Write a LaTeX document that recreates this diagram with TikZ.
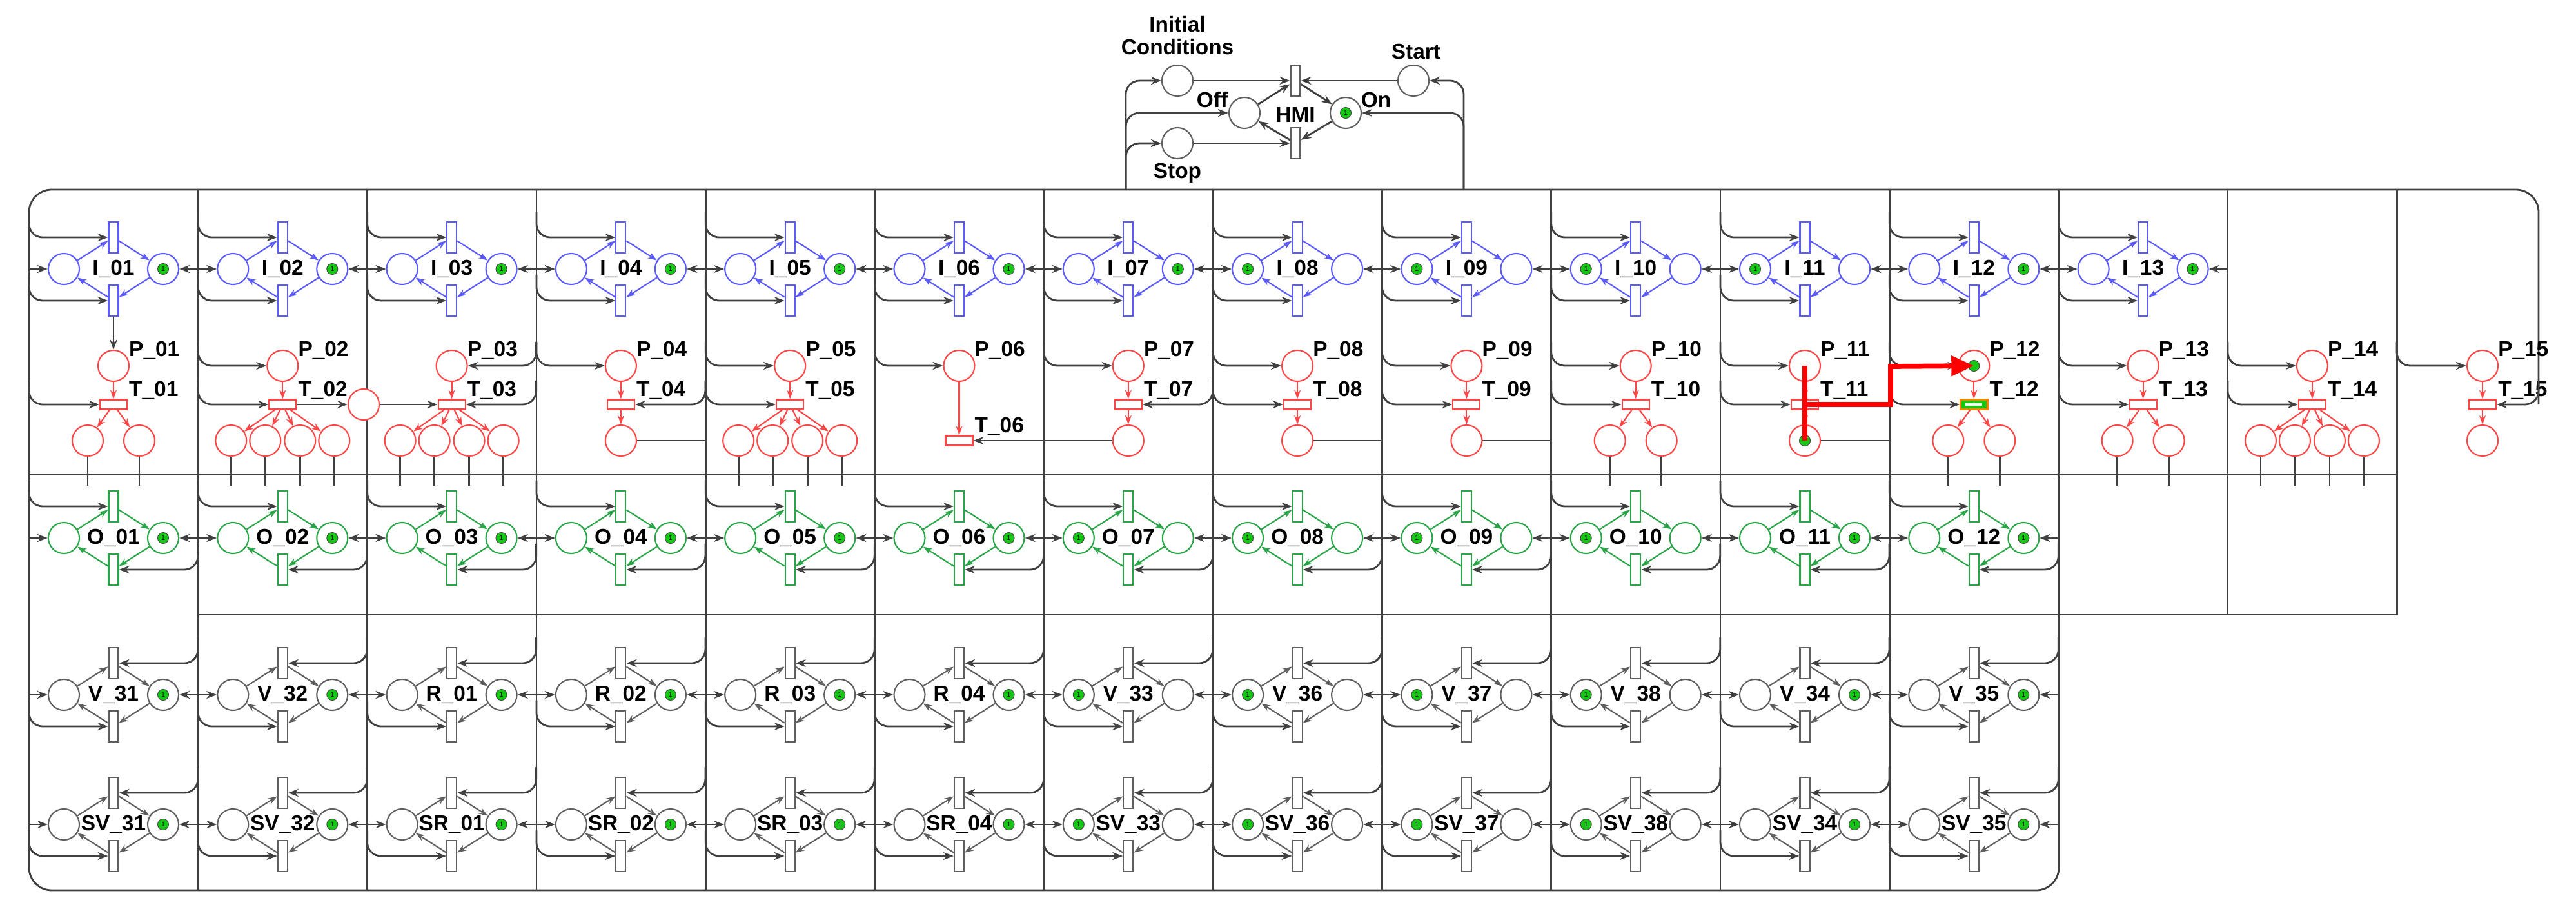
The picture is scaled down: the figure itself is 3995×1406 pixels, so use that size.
\documentclass[tikz,border=0pt]{standalone}
\usepackage{fontspec}
\setmainfont{Liberation Sans}
\usetikzlibrary{arrows.meta}
\definecolor{iblue}{RGB}{90,90,255}
\definecolor{pred}{RGB}{255,70,70}
\definecolor{ogreen}{RGB}{40,165,70}
\definecolor{vgray}{RGB}{95,95,95}
\definecolor{tokg}{RGB}{20,200,20}
\tikzset{
 place/.style={circle,minimum size=0.48cm,inner sep=0pt,line width=0.6pt,fill=white},
 vtr/.style={rectangle,minimum width=0.15cm,minimum height=0.48cm,inner sep=0pt,line width=0.6pt,fill=white},
 htr/.style={rectangle,minimum width=0.42cm,minimum height=0.15cm,inner sep=0pt,line width=0.6pt,fill=white},
 token/.style={circle,minimum size=0.17cm,inner sep=0pt,fill=tokg,draw=black!70,line width=0.3pt,font=\fontsize{3}{3}\selectfont},
 lab/.style={font=\bfseries\fontsize{9.5}{10}\selectfont,inner sep=1pt},
 conn/.style={draw=black!75,line width=0.8pt,rounded corners=6},
 arr/.style={conn,-{Stealth[length=0.16cm,width=0.12cm]}},
 iarc/.style={line width=0.6pt,-{Stealth[length=0.14cm,width=0.1cm]}},
}
\newcommand\pnm[8]{%
 \pgfmathsetmacro\xl{#2-77}\pgfmathsetmacro\xr{#2+77}%
 \pgfmathsetmacro\yu{#3-49}\pgfmathsetmacro\yd{#3+49}%
 \pgfmathsetmacro\bl{#2-131}\pgfmathsetmacro\br{#2+131}%
 \node[place,draw=#4] (#1l) at (\xl,#3) {};
 \node[place,draw=#4] (#1r) at (\xr,#3) {};
 \node[vtr,draw=#4] (#1u) at (#2,\yu) {};
 \node[vtr,draw=#4] (#1d) at (#2,\yd) {};
 \node[lab] at (#2,#3) {#6};
 \draw[iarc,#4] (#1l) -- (#1u);
 \draw[iarc,#4] (#1u) -- (#1r);
 \draw[iarc,#4] (#1r) -- (#1d);
 \draw[iarc,#4] (#1d) -- (#1l);
 \if L#5 \node[token] at (#1l) {1};\else \node[token] at (#1r) {1};\fi
 \if L#7 \draw[arr] (\bl,\yu-40) |- (#1u.west);\else \draw[arr] (\br,\yu-40) |- (#1u.east);\fi
 \if L#8 \draw[arr] (\bl,\yd-40) |- (#1d.west);\else \draw[arr] (\br,\yd-40) |- (#1d.east);\fi
 \draw[arr] (\bl,#3) -- (#1l);
 \draw[arr] (\br,#3) -- (#1r);
}
\begin{document}
\begin{tikzpicture}[x=0.01cm,y=-0.01cm]
\useasboundingbox (0,0) rectangle (3995,1406);
% frame
\draw[conn,rounded corners=10] (3937,627) -- (3937,294) -- (45,294) -- (45,1380) -- (3193,1380) -- (3193,953);
\foreach \k in {1,...,11}{\pgfmathsetmacro\xx{45+262.3*\k}\draw[conn] (\xx,294) -- (\xx,1380);}
\foreach \k in {12,13,14}{\pgfmathsetmacro\xx{45+262.3*\k}\draw[conn] (\xx,294) -- (\xx,953);}
\draw[conn] (45,736) -- (3717,736);
\draw[conn] (307,953) -- (3717,953);
% modules
\foreach \k/\t/\lab in {0/R/I\_01,1/R/I\_02,2/R/I\_03,3/R/I\_04,4/R/I\_05,5/R/I\_06,6/R/I\_07,7/L/I\_08,8/L/I\_09,9/L/I\_10,10/L/I\_11,11/R/I\_12,12/R/I\_13}{
 \pgfmathsetmacro\cx{176+262.3*\k}\pnm{I\k}{\cx}{417}{iblue}{\t}{\lab}{L}{L}}
\foreach \k/\t/\lab in {0/R/O\_01,1/R/O\_02,2/R/O\_03,3/R/O\_04,4/R/O\_05,5/R/O\_06,6/L/O\_07,7/L/O\_08,8/L/O\_09,9/L/O\_10,10/R/O\_11,11/R/O\_12}{
 \pgfmathsetmacro\cx{176+262.3*\k}\pnm{O\k}{\cx}{834}{ogreen}{\t}{\lab}{L}{R}}
\foreach \k/\t/\lab in {0/R/V\_31,1/R/V\_32,2/R/R\_01,3/R/R\_02,4/R/R\_03,5/R/R\_04,6/L/V\_33,7/L/V\_36,8/L/V\_37,9/L/V\_38,10/R/V\_34,11/R/V\_35}{
 \pgfmathsetmacro\cx{176+262.3*\k}\pnm{V\k}{\cx}{1077}{vgray}{\t}{\lab}{R}{L}}
\foreach \k/\t/\lab in {0/R/SV\_31,1/R/SV\_32,2/R/SR\_01,3/R/SR\_02,4/R/SR\_03,5/R/SR\_04,6/L/SV\_33,7/L/SV\_36,8/L/SV\_37,9/L/SV\_38,10/R/SV\_34,11/R/SV\_35}{
 \pgfmathsetmacro\cx{176+262.3*\k}\pnm{S\k}{\cx}{1278}{vgray}{\t}{\lab}{R}{L}}
% P row
\foreach \k/\n/\pin/\tin/\num in {0/2/T/L/01,1/4/L/L/02,2/4/R/R/03,3/1/L/R/04,4/4/L/L/05,5/0/L/X/06,6/1/L/R/07,7/1/L/L/08,8/1/L/L/09,9/2/L/L/10,10/1/L/L/11,11/2/L/L/12,12/2/L/L/13,13/4/L/L/14,14/1/L/R/15}{
 \pgfmathsetmacro\cx{\k<14 ? 176+262.3*\k : 3850}
 \pgfmathsetmacro\bl{\k<14 ? \cx-131 : 3717}
 \pgfmathsetmacro\br{\k<14 ? \cx+131 : 3937}
 \ifnum\k=5 \def\ty{683}\else\def\ty{627}\fi
 \node[place,draw=pred] (P\k) at (\cx,567) {};
 \node[lab,anchor=west] at (\cx+20,543) {P\_\num};
 \node[htr,draw=pred] (T\k) at (\cx,\ty) {};
 \node[lab,anchor=west] at (\cx+20,\ty-22) {T\_\num};
 \draw[iarc,pred] (P\k) -- (T\k);
 \if L\pin \draw[arr] (\bl,530) |- (P\k.west);\fi
 \if R\pin \draw[arr] (\br,530) |- (P\k.east);\fi
 \if L\tin \draw[arr] (\bl,590) |- (T\k.west);\fi
 \if R\tin \draw[arr] (\br,590) |- (T\k.east);\fi
 \ifcase\n
 \or
  \node[place,draw=pred] (Q\k-1) at (\cx,683) {};
  \draw[iarc,pred] (T\k) -- (Q\k-1);
 \or
  \node[place,draw=pred] (Q\k-1) at (\cx-40,683) {};
  \node[place,draw=pred] (Q\k-2) at (\cx+40,683) {};
  \draw[iarc,pred] (T\k) -- (Q\k-1);
  \draw[iarc,pred] (T\k) -- (Q\k-2);
  \draw[conn] (Q\k-1.south) -- ++(0,45);
  \draw[conn] (Q\k-2.south) -- ++(0,45);
 \or\or
  \foreach \j/\o in {1/-80,2/-27,3/27,4/80}{
   \node[place,draw=pred] (Q\k-\j) at (\cx+\o,683) {};
   \draw[iarc,pred] (T\k) -- (Q\k-\j);
   \draw[conn] (Q\k-\j.south) -- ++(0,45);}
 \fi
}
\draw[arr] (I0d) -- (P0);
% special P-row links
\node[place,draw=pred] (X2) at (564,627) {};
\draw[arr] (T1) -- (X2);
\draw[arr] (X2) -- (T2);
\draw[arr] (Q6-1) -- (T5);
\foreach \k in {3,7,8,10}{\pgfmathsetmacro\br{176+262.3*\k+131}\draw[conn] (Q\k-1.east) -- (\br,683);}
% highlight
\node[token] at (P11) {};
\node[token] at (Q10-1) {};
\node[htr,draw=orange,fill=tokg,line width=1pt] at (T11) {};
\node[rectangle,fill=white,minimum width=0.26cm,minimum height=0.04cm,inner sep=0pt] at (T11) {};
\draw[red,line width=2.2pt] (P10.center) -- (Q10-1.center);
\draw[red,line width=2.2pt,-{Triangle[length=0.35cm,width=0.3cm]}] (T10.center) -| (2932,568) -- (P11.center);
% HMI
\node[place,draw=vgray] (hI) at (1826,125) {};
\node[place,draw=vgray] (hS) at (1826,222) {};
\node[place,draw=vgray] (hOff) at (1930,175) {};
\node[place,draw=vgray] (hOn) at (2087,175) {};
\node[place,draw=vgray] (hSt) at (2192,125) {};
\node[vtr,draw=vgray] (hU) at (2009,125) {};
\node[vtr,draw=vgray] (hD) at (2009,222) {};
\node[token] at (hOn) {1};
\node[lab,align=center] at (1826,55) {Initial\\Conditions};
\node[lab] at (2196,80) {Start};
\node[lab] at (1826,268) {Stop};
\node[lab] at (1880,155) {Off};
\node[lab] at (2134,155) {On};
\node[lab] at (2009,178) {HMI};
\draw[arr] (hI) -- (hU);
\draw[arr] (hSt) -- (hU);
\draw[arr] (hOff) -- (hU);
\draw[arr] (hU) -- (hOn);
\draw[arr] (hOn) -- (hD);
\draw[arr] (hD) -- (hOff);
\draw[arr] (hS) -- (hD);
\draw[arr] (1746,294) |- (hI);
\draw[arr] (1746,294) |- (hOff);
\draw[arr] (1746,294) |- (hS);
\draw[arr] (2270,294) |- (hSt);
\draw[arr] (2270,294) |- (hOn);
\end{tikzpicture}
\end{document}
